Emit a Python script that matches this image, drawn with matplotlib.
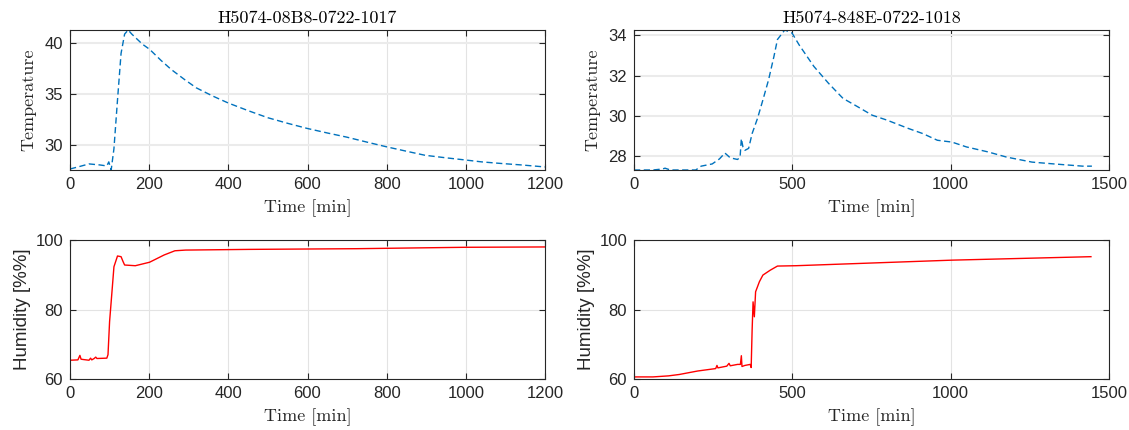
import numpy as np
import matplotlib
matplotlib.use('Agg')
import matplotlib.pyplot as plt

# sensor 1 (H5074-08B8-0722-1017)
t1_temp = [0, 20, 48, 75, 93, 98, 104, 111, 120, 129, 138, 147, 156, 183, 201, 230, 256,
           290, 319, 360, 400, 450, 500, 550, 599, 650, 698, 750, 798, 850, 897, 950, 996,
           1040, 1087, 1140, 1200]
temp1 = [27.6, 27.8, 28.1, 28.0, 27.9, 28.3, 27.5, 29.6, 34.4, 39.0, 40.9, 41.3, 40.9, 39.9,
         39.4, 38.3, 37.4, 36.4, 35.6, 34.8, 34.1, 33.35, 32.65, 32.1, 31.6, 31.15, 30.75,
         30.25, 29.8, 29.35, 28.95, 28.7, 28.5, 28.3, 28.15, 28.0, 27.8]

t1_hum = [0, 20, 25, 28, 34, 48, 52, 55, 61, 65, 68, 93, 96, 100, 107, 111, 120, 129, 134,
          138, 165, 201, 238, 265, 292, 454, 725, 996, 1200]
hum1 = [65.4, 65.5, 66.8, 65.7, 65.6, 65.4, 66.0, 65.5, 65.9, 66.3, 65.9, 66.0, 67.0, 76.5,
        86.5, 92.3, 95.4, 95.2, 93.8, 92.8, 92.6, 93.6, 95.7, 96.9, 97.1, 97.3, 97.5, 97.9,
        98.0]

# sensor 2 (H5074-848E-0722-1018)
t2_temp = [0, 60, 90, 98, 115, 195, 212, 247, 270, 287, 304, 327, 335, 339, 344, 350, 362,
           373, 390, 407, 425, 442, 453, 476, 499, 522, 568, 614, 660, 706, 752, 798, 867,
           912, 958, 1004, 1050, 1119, 1176, 1257, 1326, 1417, 1446]
temp2 = [27.33, 27.33, 27.38, 27.42, 27.33, 27.33, 27.52, 27.63, 27.88, 28.17, 27.93, 27.85,
         27.97, 28.88, 28.47, 28.3, 28.4, 29.13, 29.88, 30.79, 31.79, 32.95, 33.78, 34.25,
         34.1, 33.5, 32.45, 31.62, 30.87, 30.46, 30.04, 29.8, 29.38, 29.13, 28.8, 28.71,
         28.47, 28.22, 27.97, 27.72, 27.63, 27.52, 27.52]

t2_hum = [0, 60, 109, 143, 201, 258, 262, 265, 293, 300, 304, 327, 336, 339, 341, 350, 367,
          370, 373, 376, 380, 384, 396, 407, 430, 453, 511, 1004, 1443]
hum2 = [60.6, 60.6, 60.9, 61.3, 62.3, 63.0, 63.9, 63.2, 63.7, 64.5, 63.8, 64.2, 64.2, 66.7,
        63.6, 63.9, 64.2, 63.3, 74.0, 82.2, 77.9, 85.1, 88.0, 89.9, 91.3, 92.5, 92.6, 94.2,
        95.2]

titles = ['H5074-08B8-0722-1017', 'H5074-848E-0722-1018']
xticks = [[0, 200, 400, 600, 800, 1000, 1200], [0, 500, 1000, 1500]]

INK = '#262626'
SERIF = 'cmr10'

fig = plt.figure(figsize=(11.29, 4.30), dpi=100)

W = 475 / 1129
pos = {
    (0, 0): [70 / 1129, 1 - 170 / 430, W, 140 / 430],
    (0, 1): [634 / 1129, 1 - 170 / 430, W, 140 / 430],
    (1, 0): [70 / 1129, 1 - 379 / 430, W, 139 / 430],
    (1, 1): [634 / 1129, 1 - 379 / 430, W, 139 / 430],
}


def style(ax, xt):
    ax.set_xticks(xt)
    ax.tick_params(direction='in', top=True, right=True, length=4, width=0.8, pad=5,
                   colors=INK, labelsize=12, labelfontfamily='Liberation Sans')
    for s in ax.spines.values():
        s.set_color(INK)
        s.set_linewidth(0.8)
    ax.grid(True, color='#e3e3e3', linewidth=0.8)
    ax.set_axisbelow(True)
    ax.set_xlabel('Time [min]', fontfamily=SERIF, fontsize=13, color=INK, labelpad=5.5)


temp_sets = [(t1_temp, temp1, 1200, [30, 35, 40]), (t2_temp, temp2, 1500, [28, 30, 32, 34])]
hum_sets = [(t1_hum, hum1, 1200), (t2_hum, hum2, 1500)]

for c in range(2):
    tx, ty, xmax, yt = temp_sets[c]
    ax = fig.add_axes(pos[(0, c)])
    ax.plot(tx, ty, color='#0072BD', linewidth=1.0, dashes=(4.5, 2.5))
    ax.set_xlim(0, xmax)
    ax.set_ylim(min(ty), max(ty))
    ax.set_yticks(yt)
    style(ax, xticks[c])
    # horizontal grid drawn heavier on the temperature panels
    ax.yaxis.grid(True, color='#ebebeb', linewidth=1.5)
    ax.set_ylabel('Temperature', fontfamily=SERIF, fontsize=13, color=INK, labelpad=6)
    ax.set_title(titles[c], fontfamily=SERIF, fontsize=13, color='black', pad=5)

    hx, hy, xmax = hum_sets[c]
    ax = fig.add_axes(pos[(1, c)])
    ax.plot(hx, hy, color='red', linewidth=1.0)
    ax.set_xlim(0, xmax)
    ax.set_ylim(60, 100)
    ax.set_yticks([60, 80, 100])
    style(ax, xticks[c])
    ax.set_ylabel('Humidity [%%]', fontfamily='Liberation Sans', fontsize=13.5, color=INK,
                  labelpad=3)

fig.savefig('out.png', dpi=100)
